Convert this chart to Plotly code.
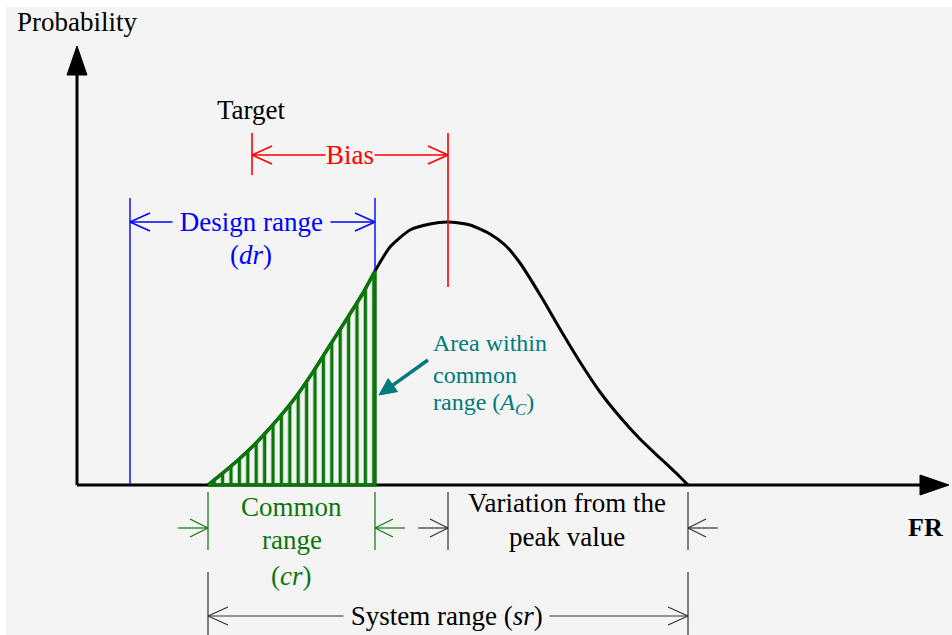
import math
import plotly.graph_objects as go

# distribution curve: FR position and probability height above the FR axis
curve_fr = [208, 230, 250, 270, 295, 313, 332, 348, 363, 375, 390, 410, 430, 448,
            470, 490, 505, 520, 542, 560, 580, 600, 620, 640, 660, 675, 688]
curve_prob = [0, 18, 36, 57, 87, 113, 143, 168, 192, 214, 238, 255, 261, 263,
              260, 251, 240, 222, 187, 156, 123, 93, 68, 46, 27, 13, 0]

# ranges along FR
target_fr = 252
peak_fr = 448
design_range = [130, 375]
common_range = [208, 375]
system_range = [208, 688]
variation_range = [peak_fr, 688]

RED = "#ff0000"
BLUE = "#0000ff"
GREEN = "#0a760a"
TEAL = "#007a7a"
DARK = "#333333"
BG = "#f4f4f4"
FONT = "Liberation Serif"

BASE = 485  # pixel row of the FR axis


def row(r):
    return BASE - r


def span(x0, x1, r, head=20, half=9):
    # horizontal dimension line with open heads at both ends pointing outward
    y = row(r)
    xs = [x0, x1, None, x0 + head, x0, x0 + head, None, x1 - head, x1, x1 - head]
    ys = [y, y, None, y + half, y, y - half, None, y + half, y, y - half]
    return xs, ys


def pointer(x_tip, r, d, length=30, head=18, half=9):
    # short arrow pointing at x_tip; d=+1 comes from the left, d=-1 from the right
    y = row(r)
    xs = [x_tip - d * length, x_tip, None, x_tip - d * head, x_tip, x_tip - d * head]
    ys = [y, y, None, y + half, y, y - half]
    return xs, ys


def vline(x, r0, r1):
    return [x, x, None], [row(r0), row(r1), None]


def add_lines(fig, parts, color, width):
    xs, ys = [], []
    for px, py in parts:
        xs += list(px) + [None]
        ys += list(py) + [None]
    fig.add_trace(go.Scatter(x=xs, y=ys, mode="lines", line=dict(color=color, width=width),
                             hoverinfo="skip"))


fig = go.Figure()

# axes with filled arrow heads
fig.add_trace(go.Scatter(x=[77, 922], y=[0, 0], mode="lines", line=dict(color="black", width=3)))
fig.add_trace(go.Scatter(x=[920, 949, 920, 920], y=[10, 0, -10, 10], fill="toself", fillcolor="black",
                         mode="lines", line=dict(color="black", width=1)))
fig.add_trace(go.Scatter(x=[77, 77], y=[0, row(74)], mode="lines", line=dict(color="black", width=3)))
fig.add_trace(go.Scatter(x=[67, 77, 87, 67], y=[row(75), row(46), row(75), row(75)], fill="toself",
                         fillcolor="black", mode="lines", line=dict(color="black", width=1)))

# the curve
fig.add_trace(go.Scatter(x=curve_fr, y=curve_prob, mode="lines",
                         line=dict(color="black", width=3, shape="spline", smoothing=0.6)))

# hatched common range area
sub = [(f, p) for f, p in zip(curve_fr, curve_prob) if common_range[0] <= f <= common_range[1]]
fig.add_trace(go.Scatter(x=[s[0] for s in sub], y=[s[1] for s in sub], mode="lines", fill="tozeroy",
                         fillcolor="rgba(0,0,0,0)",
                         fillpattern=dict(shape="|", fgcolor=GREEN, fgopacity=1, bgcolor="rgba(0,0,0,0)",
                                          size=8.4, solidity=0.4),
                         line=dict(color=GREEN, width=3.5, shape="spline", smoothing=0.6)))
fig.add_trace(go.Scatter(x=[sub[-1][0], sub[-1][0], sub[0][0]], y=[sub[-1][1], 0, 0], mode="lines",
                         line=dict(color=GREEN, width=3.5)))

# target / bias (red)
add_lines(fig, [vline(target_fr, 133, 175), vline(peak_fr, 133, 287),
                span(target_fr, peak_fr, 155)], RED, 1.6)

# design range (blue)
top_at_dr = curve_prob[curve_fr.index(design_range[1])]
add_lines(fig, [vline(design_range[0], 198, BASE), ([design_range[1]] * 2, [row(198), top_at_dr]),
                span(design_range[0], design_range[1], 222)], BLUE, 1.4)

# common range pointers (green)
add_lines(fig, [vline(common_range[0], 492, 550), vline(common_range[1], 492, 550),
                pointer(common_range[0], 528, 1), pointer(common_range[1], 528, -1)], GREEN, 1.2)

# variation and system range (dark)
add_lines(fig, [vline(variation_range[0], 492, 550), vline(variation_range[1], 492, 550),
                pointer(variation_range[0], 528, 1), pointer(variation_range[1], 528, -1),
                vline(system_range[0], 572, 640), vline(system_range[1], 572, 640),
                span(system_range[0], system_range[1], 616)], DARK, 1.2)

# teal pointer to the hatched area (shaft + filled head)
tail, tip = (428, 360), (379, 395)
dx, dr = tip[0] - tail[0], tip[1] - tail[1]
n = math.hypot(dx, dr)
ux, ur = dx / n, dr / n
hl, hw = 17, 8
bx, br = tip[0] - ux * hl, tip[1] - ur * hl
fig.add_trace(go.Scatter(x=[tail[0], bx], y=[row(tail[1]), row(br)], mode="lines",
                         line=dict(color=TEAL, width=3.5)))
fig.add_trace(go.Scatter(x=[tip[0], bx - ur * hw, bx + ur * hw, tip[0]],
                         y=[row(tip[1]), row(br + ux * hw), row(br - ux * hw), row(tip[1])],
                         mode="lines", fill="toself", fillcolor=TEAL, line=dict(color=TEAL, width=1)))


def label(text, x, r, color="black", size=27, bg=None, xanchor="center", bold=False):
    fig.add_annotation(x=x, y=row(r), xref="x", yref="y", text=("<b>%s</b>" % text) if bold else text,
                       showarrow=False, xanchor=xanchor, yanchor="middle",
                       font=dict(family=FONT, size=size, color=color),
                       bgcolor=bg, borderpad=0)


label("Probability", 77, 22)
label("FR", 925, 527, bold=True, size=26)
label("Target", 251, 110)
label("Bias", (target_fr + peak_fr) / 2, 155, RED, bg=BG)
label(" Design range ", 251, 222, BLUE, bg=BG)
label("(<i>dr</i>)", 251, 255, BLUE)
label("Common", (common_range[0] + common_range[1]) / 2, 507, GREEN)
label("range", (common_range[0] + common_range[1]) / 2, 540, GREEN)
label("(<i>cr</i>)", (common_range[0] + common_range[1]) / 2, 576, GREEN)
label("Variation from the", 567, 503)
label("peak value", 567, 537)
label(" System range (<i>sr</i>) ", 446, 616, bg=BG)
label("Area within", 432, 343, TEAL, size=24, xanchor="left")
label("common", 432, 375, TEAL, size=24, xanchor="left")
label("range (<i>A<sub>C</sub></i>)", 432, 404, TEAL, size=24, xanchor="left")

fig.update_layout(
    width=952, height=635,
    margin=dict(l=0, r=0, t=0, b=0),
    paper_bgcolor="white", plot_bgcolor="rgba(0,0,0,0)",
    showlegend=False,
    xaxis=dict(visible=False, range=[0, 952], fixedrange=True),
    yaxis=dict(visible=False, range=[row(635), row(0)], fixedrange=True),
    shapes=[dict(type="rect", xref="x", yref="y", x0=6, x1=952, y0=row(635), y1=row(7),
                 fillcolor=BG, line=dict(width=0), layer="below")],
)

# drop the page's default body margin so the figure fills the window
fig.write_html("out.html", post_script="document.body.style.margin='0';", config={"displayModeBar": False})
